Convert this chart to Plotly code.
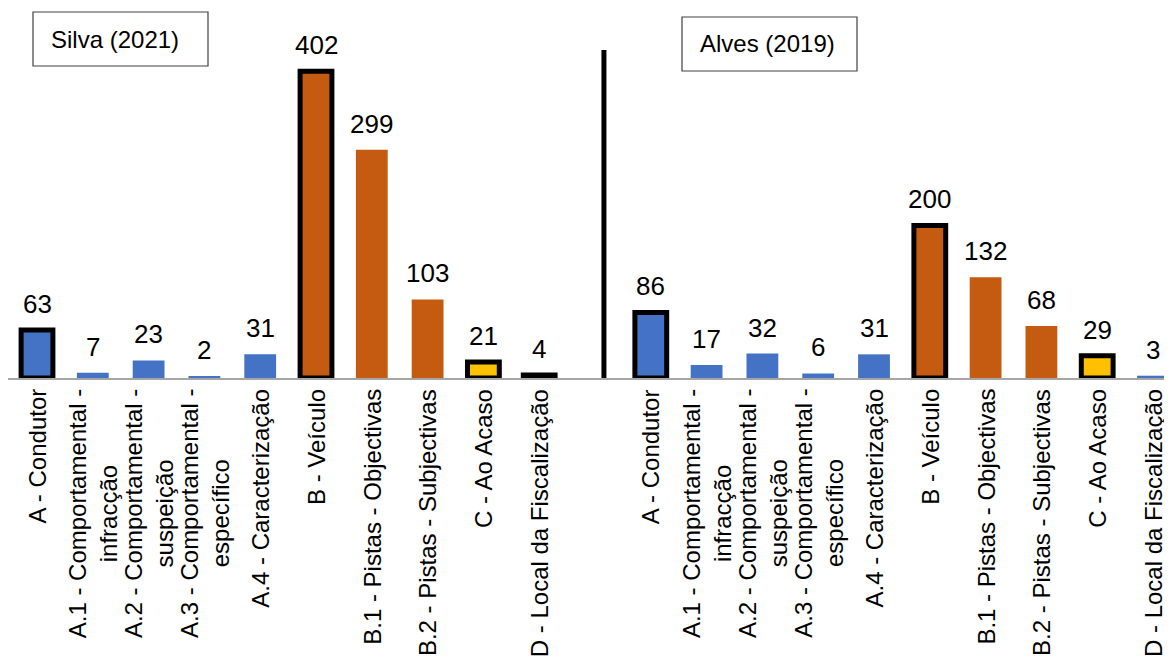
import plotly.graph_objects as go

# ---- data ----
categories = [
    "A - Condutor",
    "A.1 - Comportamental -<br>infracção",
    "A.2 - Comportamental -<br>suspeição",
    "A.3 - Comportamental -<br>específico",
    "A.4 - Caracterização",
    "B - Veículo",
    "B.1 - Pistas - Objectivas",
    "B.2 - Pistas - Subjectivas",
    "C - Ao Acaso",
    "D - Local da Fiscalização",
]
silva_2021 = [63, 7, 23, 2, 31, 402, 299, 103, 21, 4]
alves_2019 = [86, 17, 32, 6, 31, 200, 132, 68, 29, 3]
panel_titles = ["Silva (2021)", "Alves (2019)"]

# ---- styles ----
BLUE = "#4472C4"
ORANGE = "#C55A11"
YELLOW = "#FFC000"
silva_colors = [BLUE] * 5 + [ORANGE] * 3 + [YELLOW, "#000000"]
alves_colors = [BLUE] * 5 + [ORANGE] * 3 + [YELLOW, BLUE]
silva_border = [True, False, False, False, False, True, False, False, True, True]
alves_border = [True, False, False, False, False, True, False, False, True, False]

n = len(categories)
x_silva = list(range(n))
x_alves = [n + 1 + i for i in range(n)]
xs = x_silva + x_alves
ys = silva_2021 + alves_2019
cols = silva_colors + alves_colors
borders = silva_border + alves_border

FONT = "Liberation Sans, Arial, sans-serif"

# page body has an 8px margin -> figure is laid out in page coords minus 8
W, H = 1164, 651
OFF = 8
BASE = 378 - OFF          # baseline in figure px
PX_PER_UNIT = 0.763
SLOT = 55.8
X0 = 37 - OFF             # centre of first slot in figure px


def px_x(p):
    return (p - OFF) / W


def px_y(p):
    return (BASE - (p - OFF)) / BASE


fig = go.Figure()
fig.add_trace(go.Bar(
    x=xs, y=ys, width=0.57,
    marker=dict(
        color=cols,
        line=dict(color="#000000", width=[5 if b else 0 for b in borders]),
    ),
    showlegend=False, hoverinfo="x+y",
))

annotations = []
# value labels
for x, v in zip(xs, ys):
    annotations.append(dict(
        x=x, y=v, xref="x", yref="y", text=str(v), showarrow=False,
        yanchor="bottom", xanchor="center", yshift=9,
        font=dict(family=FONT, size=26, color="#000000"),
    ))
# category labels (rotated, centred lines)
for x, lab in zip(xs, categories + categories):
    annotations.append(dict(
        x=x, y=0, xref="x", yref="paper", text=lab, showarrow=False,
        textangle=-90, xanchor="center", yanchor="top", yshift=-9,
        align="center",
        font=dict(family=FONT, size=24, color="#000000"),
    ))
# panel titles
annotations.append(dict(
    x=px_x(114.5), y=px_y(39), xref="paper", yref="paper",
    text=panel_titles[0], showarrow=False, xanchor="center", yanchor="middle",
    font=dict(family=FONT, size=24, color="#000000"),
))
annotations.append(dict(
    x=px_x(767.5), y=px_y(43), xref="paper", yref="paper",
    text=panel_titles[1], showarrow=False, xanchor="center", yanchor="middle",
    font=dict(family=FONT, size=24, color="#000000"),
))

shapes = [
    dict(type="rect", xref="paper", yref="paper",
         x0=px_x(33), x1=px_x(208), y0=px_y(66), y1=px_y(12),
         line=dict(color="#404040", width=1.2), fillcolor="rgba(0,0,0,0)"),
    dict(type="rect", xref="paper", yref="paper",
         x0=px_x(682), x1=px_x(857), y0=px_y(71), y1=px_y(17),
         line=dict(color="#404040", width=1.2), fillcolor="rgba(0,0,0,0)"),
    dict(type="line", xref="x", yref="paper",
         x0=n + 0.16, x1=n + 0.16, y0=0, y1=px_y(50),
         line=dict(color="#000000", width=5)),
]

fig.update_layout(
    width=W, height=H,
    margin=dict(l=0, r=0, t=0, b=H - BASE, pad=0),
    paper_bgcolor="white", plot_bgcolor="white",
    xaxis=dict(range=[-X0 / SLOT, (W - X0) / SLOT], showticklabels=False,
               showgrid=False, zeroline=False, showline=True,
               linecolor="#A6A6A6", linewidth=2, ticks=""),
    yaxis=dict(range=[0, BASE / PX_PER_UNIT], visible=False, showgrid=False,
               zeroline=False),
    annotations=annotations, shapes=shapes,
    bargap=0.43,
)

fig.write_html("out.html")
